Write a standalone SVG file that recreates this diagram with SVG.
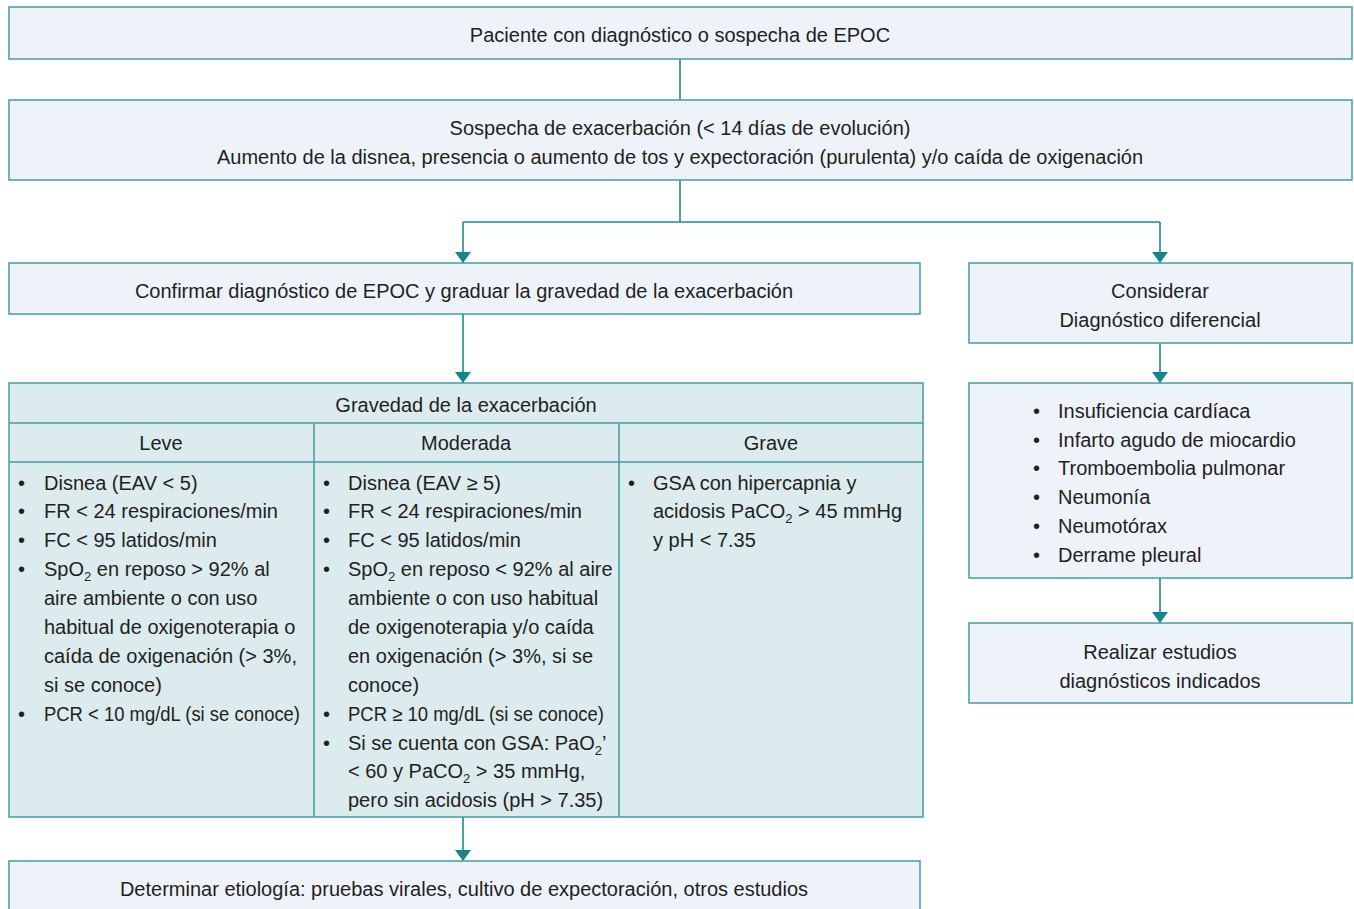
<svg xmlns="http://www.w3.org/2000/svg" width="1354" height="909" viewBox="0 0 1354 909">
<style>
text{font-family:"Liberation Sans",Arial,sans-serif;font-size:20px;fill:#231f20}
.c{text-anchor:middle}
.box{fill:#eef3fa;stroke:#3f9ea3;stroke-width:1.5}
.tbl{fill:#dcebee;stroke:#3f9ea3;stroke-width:1.5}
.ln{stroke:#3f9ea3;stroke-width:1.5}
.con{stroke:#1b8a90;stroke-width:1.6;fill:none}
.sub{font-size:13px}
</style>
<defs>
<marker id="ah" viewBox="0 0 11 16" refX="11" refY="8" markerWidth="11" markerHeight="16" markerUnits="userSpaceOnUse" orient="auto">
<path d="M0,0 L11,8 L0,16 z" fill="#13868c"/>
</marker>
</defs>
<rect width="1354" height="909" fill="#ffffff"/>
<g id="connectors">
<line class="con" x1="680" y1="59" x2="680" y2="100"/>
<polyline class="con" points="680,180 680,222"/>
<polyline class="con" points="463,222 1160,222"/>
<line class="con" x1="463" y1="222" x2="463" y2="263" marker-end="url(#ah)"/>
<line class="con" x1="1160" y1="222" x2="1160" y2="263" marker-end="url(#ah)"/>
<line class="con" x1="463" y1="314" x2="463" y2="383" marker-end="url(#ah)"/>
<line class="con" x1="1160" y1="343" x2="1160" y2="383" marker-end="url(#ah)"/>
<line class="con" x1="1160" y1="578" x2="1160" y2="623" marker-end="url(#ah)"/>
<line class="con" x1="463" y1="817" x2="463" y2="861" marker-end="url(#ah)"/>
</g>
<g id="n1">
<rect class="box" x="9" y="7" width="1343" height="52"/>
<text class="c" x="680" y="42">Paciente con diagnóstico o sospecha de EPOC</text>
</g>
<g id="n2">
<rect class="box" x="9" y="100" width="1343" height="80"/>
<text class="c" x="680" y="135">Sospecha de exacerbación (&lt; 14 días de evolución)</text>
<text class="c" x="680" y="164">Aumento de la disnea, presencia o aumento de tos y expectoración (purulenta) y/o caída de oxigenación</text>
</g>
<g id="n3">
<rect class="box" x="9" y="263" width="911" height="51"/>
<text class="c" x="464" y="298">Confirmar diagnóstico de EPOC y graduar la gravedad de la exacerbación</text>
</g>
<g id="n4">
<rect class="box" x="969" y="263" width="383" height="80"/>
<text class="c" x="1160" y="298">Considerar</text>
<text class="c" x="1160" y="327">Diagnóstico diferencial</text>
</g>
<g id="table">
<rect class="tbl" x="9" y="383" width="914" height="434"/>
<line class="ln" x1="9" y1="423" x2="923" y2="423"/>
<line class="ln" x1="9" y1="462" x2="923" y2="462"/>
<line class="ln" x1="314" y1="423" x2="314" y2="817"/>
<line class="ln" x1="619" y1="423" x2="619" y2="817"/>
<text class="c" x="466" y="412">Gravedad de la exacerbación</text>
<text class="c" x="161" y="450">Leve</text>
<text class="c" x="466" y="450">Moderada</text>
<text class="c" x="771" y="450">Grave</text>
<g id="leve">
<text x="18" y="490">•</text><text x="44" y="490">Disnea (EAV &lt; 5)</text>
<text x="18" y="518">•</text><text x="44" y="518">FR &lt; 24 respiraciones/min</text>
<text x="18" y="547">•</text><text x="44" y="547">FC &lt; 95 latidos/min</text>
<text x="18" y="576">•</text><text x="44" y="576">SpO<tspan class="sub" dy="5">2</tspan><tspan dy="-5"> en reposo &gt; 92% al</tspan></text>
<text x="44" y="605">aire ambiente o con uso</text>
<text x="44" y="634">habitual de oxigenoterapia o</text>
<text x="44" y="663">caída de oxigenación (&gt; 3%,</text>
<text x="44" y="692">si se conoce)</text>
<text x="18" y="721">•</text><text x="44" y="721" textLength="256" lengthAdjust="spacingAndGlyphs">PCR &lt; 10 mg/dL (si se conoce)</text>
</g>
<g id="moderada">
<text x="323" y="490">•</text><text x="348" y="490">Disnea (EAV ≥ 5)</text>
<text x="323" y="518">•</text><text x="348" y="518">FR &lt; 24 respiraciones/min</text>
<text x="323" y="547">•</text><text x="348" y="547">FC &lt; 95 latidos/min</text>
<text x="323" y="576">•</text><text x="348" y="576">SpO<tspan class="sub" dy="5">2</tspan><tspan dy="-5"> en reposo &lt; 92% al aire</tspan></text>
<text x="348" y="605">ambiente o con uso habitual</text>
<text x="348" y="634">de oxigenoterapia y/o caída</text>
<text x="348" y="663">en oxigenación (&gt; 3%, si se</text>
<text x="348" y="692">conoce)</text>
<text x="323" y="721">•</text><text x="348" y="721" textLength="256" lengthAdjust="spacingAndGlyphs">PCR ≥ 10 mg/dL (si se conoce)</text>
<text x="323" y="750">•</text><text x="348" y="750">Si se cuenta con GSA: PaO<tspan class="sub" dy="5">2</tspan><tspan dy="-5">’</tspan></text>
<text x="348" y="778">&lt; 60 y PaCO<tspan class="sub" dy="5">2</tspan><tspan dy="-5"> &gt; 35 mmHg,</tspan></text>
<text x="348" y="807">pero sin acidosis (pH &gt; 7.35)</text>
</g>
<g id="grave">
<text x="628" y="490">•</text><text x="653" y="490">GSA con hipercapnia y</text>
<text x="653" y="518">acidosis PaCO<tspan class="sub" dy="5">2</tspan><tspan dy="-5"> &gt; 45 mmHg</tspan></text>
<text x="653" y="547">y pH &lt; 7.35</text>
</g>
</g>
<g id="n5">
<rect class="box" x="969" y="383" width="383" height="195"/>
<text x="1033" y="418">•</text><text x="1058" y="418">Insuficiencia cardíaca</text>
<text x="1033" y="447">•</text><text x="1058" y="447">Infarto agudo de miocardio</text>
<text x="1033" y="475">•</text><text x="1058" y="475">Tromboembolia pulmonar</text>
<text x="1033" y="504">•</text><text x="1058" y="504">Neumonía</text>
<text x="1033" y="533">•</text><text x="1058" y="533">Neumotórax</text>
<text x="1033" y="562">•</text><text x="1058" y="562">Derrame pleural</text>
</g>
<g id="n6">
<rect class="box" x="969" y="623" width="383" height="80"/>
<text class="c" x="1160" y="659">Realizar estudios</text>
<text class="c" x="1160" y="688">diagnósticos indicados</text>
</g>
<g id="n7">
<rect class="box" x="9" y="861" width="911" height="60"/>
<text class="c" x="464" y="896">Determinar etiología: pruebas virales, cultivo de expectoración, otros estudios</text>
</g>
</svg>
